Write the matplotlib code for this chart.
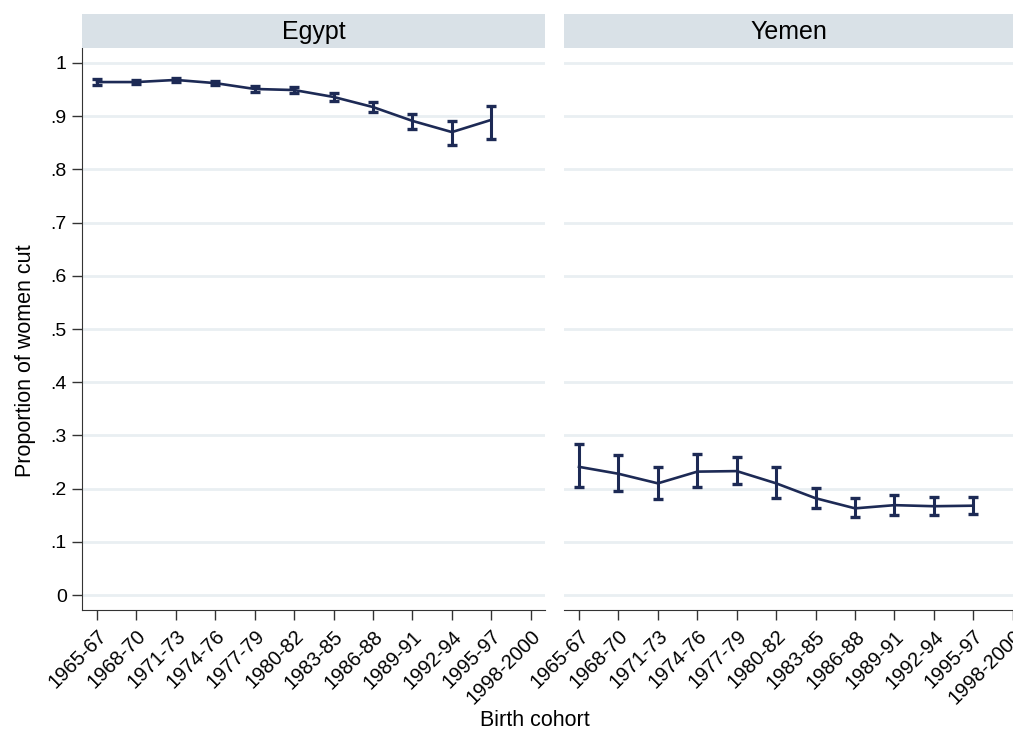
import numpy as np
import matplotlib
matplotlib.use('Agg')
import matplotlib.pyplot as plt

plt.rcParams['font.family'] = ['Liberation Sans', 'DejaVu Sans']

# data
cohorts = ['1965-67', '1968-70', '1971-73', '1974-76', '1977-79', '1980-82',
           '1983-85', '1986-88', '1989-91', '1992-94', '1995-97', '1998-2000']

egypt_mean = [0.964, 0.964, 0.968, 0.962, 0.951, 0.949, 0.936, 0.917, 0.891, 0.870, 0.893]
egypt_lo = [0.959, 0.960, 0.965, 0.958, 0.946, 0.944, 0.929, 0.908, 0.876, 0.846, 0.857]
egypt_hi = [0.969, 0.968, 0.971, 0.966, 0.956, 0.954, 0.943, 0.926, 0.904, 0.890, 0.919]

yemen_mean = [0.241, 0.228, 0.210, 0.232, 0.233, 0.210, 0.182, 0.163, 0.169, 0.167, 0.168]
yemen_lo = [0.204, 0.196, 0.181, 0.204, 0.208, 0.183, 0.163, 0.146, 0.151, 0.150, 0.153]
yemen_hi = [0.283, 0.263, 0.240, 0.265, 0.260, 0.240, 0.201, 0.182, 0.188, 0.185, 0.185]

panels = [('Egypt', egypt_mean, egypt_lo, egypt_hi),
          ('Yemen', yemen_mean, yemen_lo, yemen_hi)]

line_col = '#1d2a55'
grid_col = '#e9eff2'
strip_col = '#d9e1e7'
axis_col = '#333333'

fig = plt.figure(figsize=(10.13, 7.31), dpi=100)

W, H = 1013, 731
left_px = [82, 564]
pw = 463
bottom = (H - 610) / H
height = (610 - 48) / H
yticks = np.arange(0, 1.01, 0.1)
ylabels = ['0'] + ['.%d' % i for i in range(1, 10)] + ['1']

for i, (name, mean, lo, hi) in enumerate(panels):
    ax = fig.add_axes([left_px[i] / W, bottom, pw / W, height])
    x = np.arange(len(mean))
    mean = np.array(mean)
    err = [mean - np.array(lo), np.array(hi) - mean]
    ax.errorbar(x, mean, yerr=err, color=line_col, lw=1.9, elinewidth=2.2,
                capsize=3.5, capthick=2.4, zorder=3)
    ax.set_xlim(-0.38, 11.36)
    ax.set_ylim(-0.028, 1.028)
    ax.set_yticks(yticks)
    ax.grid(axis='y', color=grid_col, lw=2)
    ax.set_axisbelow(True)
    ax.set_xticks(np.arange(len(cohorts)))
    ax.set_xticklabels(cohorts, rotation=45, ha='right', rotation_mode='anchor',
                       fontsize=14.5)
    ax.tick_params(axis='x', length=7, width=1, color=axis_col, pad=5)
    for s in ['top', 'right']:
        ax.spines[s].set_visible(False)
    ax.spines['bottom'].set_color(axis_col)
    if i == 0:
        ax.set_yticklabels(ylabels, fontsize=14)
        ax.tick_params(axis='y', length=7, width=1, color=axis_col, pad=4)
        ax.spines['left'].set_color(axis_col)
    else:
        ax.spines['left'].set_visible(False)
        ax.tick_params(axis='y', length=0, labelleft=False)

    # header strip
    sax = fig.add_axes([left_px[i] / W, (H - 48) / H, pw / W, 34 / H])
    sax.set_facecolor(strip_col)
    sax.set_xticks([])
    sax.set_yticks([])
    for s in sax.spines.values():
        s.set_visible(False)
    cx = 0.5 if i == 0 else (1013 - 564) / 2 / pw
    sax.text(cx, 0.48, name, ha='center', va='center', fontsize=18,
             transform=sax.transAxes)

fig.text(25 / W, (H - 361) / H, 'Proportion of women cut', rotation=90,
         ha='center', va='center', fontsize=15.5)
fig.text(535 / W, (H - 721) / H, 'Birth cohort', ha='center', va='center', fontsize=15.5)

fig.savefig('out.png', dpi=100)
